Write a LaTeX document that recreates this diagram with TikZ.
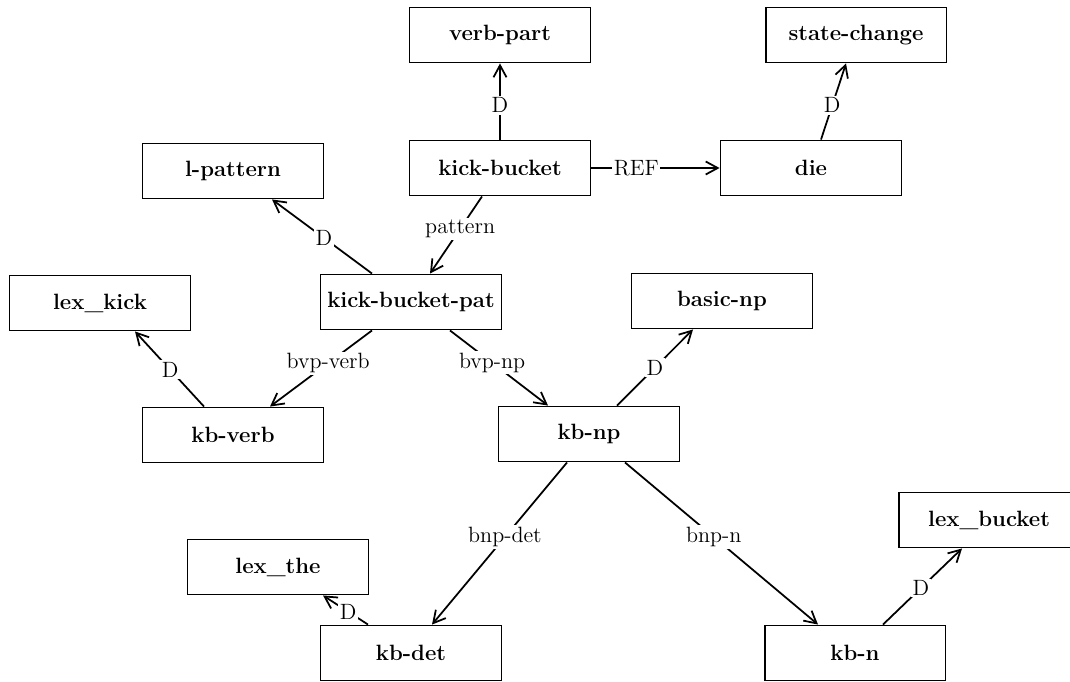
\documentclass[tikz,border=0pt]{standalone}
\usepackage{tikz}
\usetikzlibrary{calc,arrows.meta}
\tikzset{
  box/.style={draw, line width=1.1pt, minimum width=3.62cm, minimum height=1.1cm, inner sep=0pt, font=\fontsize{12.6}{15}\selectfont\bfseries},
  link/.style={line width=1pt, -{Straight Barb[length=2.4mm,width=2.6mm]}},
  lbl/.style={fill=white, inner sep=1pt, font=\fontsize{12.6}{14}\selectfont},
}
\begin{document}
\begin{tikzpicture}[x=0.02cm, y=0.02cm]
  \useasboundingbox (0,0) rectangle (1070,681);
  % top row
  \node[box] (vp)  at (500,646) {verb-part};
  \node[box] (sc)  at (856,646) {state-change};
  \node[box] (lp)  at (233,510) {l-pattern};
  \node[box] (kb)  at (500,513) {kick-bucket};
  \node[box] (die) at (811,513) {die};
  % middle
  \node[box] (lk)  at (100,378) {lex\_kick};
  \node[box] (kbp) at (411,379) {kick-bucket-pat};
  \node[box] (bnp) at (722,380) {basic-np};
  \node[box] (kbv) at (233,246) {kb-verb};
  \node[box] (kbnp) at (589,247) {kb-np};
  % bottom
  \node[box] (lb)  at (989,161) {lex\_bucket};
  \node[box] (lt)  at (278,114) {lex\_the};
  \node[box] (kbd) at (411,28) {kb-det};
  \node[box] (kbn) at (855,28) {kb-n};

  \draw[link] (kb.north) -- node[lbl, pos=0.45] {D} (vp.south);
  \draw[link] ($(die.north)+(10,0)$) -- node[lbl, pos=0.45] {D} ($(sc.south)+(-10,0)$);
  \draw[link] (kb.east) -- node[lbl, pos=0.35] {REF} (die.west);
  \draw[link] ($(kbp.north)+(-39,0)$) -- node[lbl, pos=0.48] {D} ($(lp.south)+(39,0)$);
  \draw[link] ($(kb.south)+(-18,0)$) -- node[lbl, pos=0.42] {pattern} ($(kbp.north)+(19,0)$);
  \draw[link] ($(kbp.south)+(-39,0)$) -- node[lbl, pos=0.43] {bvp-verb} ($(kbv.north)+(37,0)$);
  \draw[link] ($(kbp.south)+(39,0)$) -- node[lbl, pos=0.43] {bvp-np} ($(kbnp.north)+(-41,0)$);
  \draw[link] ($(kbv.north)+(-29,0)$) -- node[lbl, pos=0.49] {D} ($(lk.south)+(35,0)$);
  \draw[link] ($(kbnp.north)+(28,0)$) -- node[lbl, pos=0.5] {D} ($(bnp.south)+(-29,0)$);
  \draw[link] ($(kbnp.south)+(-22,0)$) -- node[lbl, pos=0.46] {bnp-det} ($(kbd.north)+(21,0)$);
  \draw[link] ($(kbnp.south)+(36,0)$) -- node[lbl, pos=0.46] {bnp-n} ($(kbn.north)+(-37,0)$);
  \draw[link] ($(kbn.north)+(28,0)$) -- node[lbl, pos=0.48] {D} ($(lb.south)+(-27,0)$);
  \draw[link] ($(kbd.north)+(-43,0)$) -- node[lbl, pos=0.44] {D} ($(lt.south)+(45,0)$);
\end{tikzpicture}
\end{document}
